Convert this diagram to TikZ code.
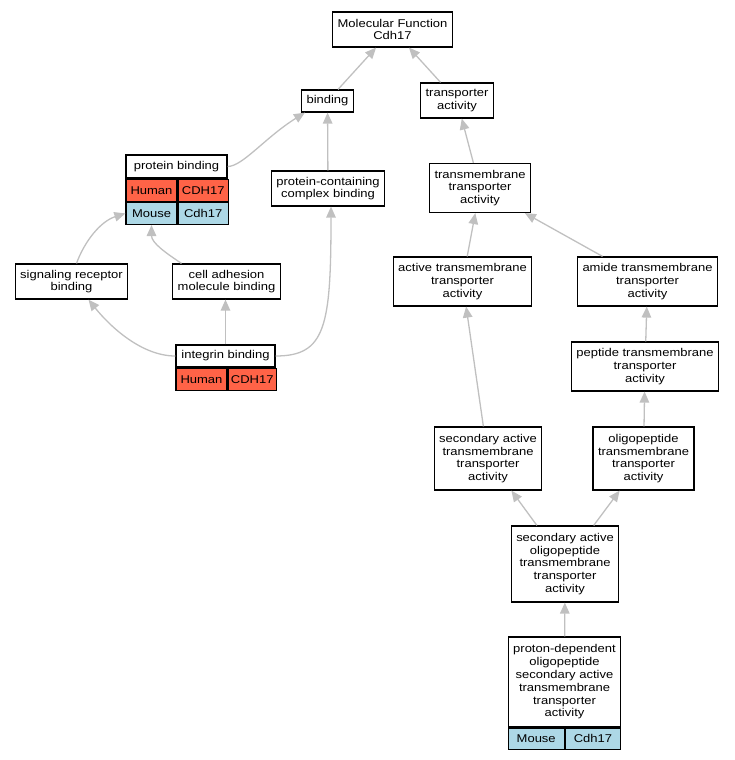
\documentclass[tikz,border=0pt]{standalone}
\usepackage{fontspec}
\newfontfamily\gofont[FakeStretch=1.15]{Liberation Sans}
\newcommand\termfont{\gofont\fontsize{11.3pt}{12.8pt}\selectfont}
\usetikzlibrary{arrows.meta}
\definecolor{human}{HTML}{FF6347}
\definecolor{mouse}{HTML}{ADD8E6}
\definecolor{edgegray}{HTML}{C0C0C0}

\begin{document}
\begin{tikzpicture}[x=1pt, y=-1pt, >={Triangle[length=11pt, width=9.5pt]},
  term/.style={draw, line width=1.2pt, fill=white, align=center, inner xsep=5pt, inner ysep=0pt, font=\termfont},
  one line/.style={minimum height=22pt},
  two lines/.style={minimum height=35pt},
  three lines/.style={minimum height=49pt},
  four lines/.style={minimum height=63pt},
  five lines/.style={minimum height=76pt},
  cell/.style={term, inner xsep=2pt, minimum height=22pt, anchor=north west},
  edge/.style={->, draw=edgegray, line width=1.3pt}]
  \useasboundingbox (0,0) rectangle (735,760);

  \node[term, two lines] (mf) at (392.5,29.5) {Molecular Function\\Cdh17};
  \node[term, one line] (binding) at (327.5,101) {binding};
  \node[term, two lines] (trans) at (457,100.5) {transporter\\activity};
  \node[term, two lines] (pcc) at (328,188.5) {protein-containing\\complex binding};
  \node[term, three lines] (tmta) at (480,188) {transmembrane\\transporter\\activity};
  \node[term, two lines] (srb) at (71.5,281.5) {signaling receptor\\binding};
  \node[term, two lines] (camb) at (226.5,281.5) {cell adhesion\\molecule binding};
  \node[term, three lines] (atta) at (462.5,281.5) {active transmembrane\\transporter\\activity};
  \node[term, three lines] (amide) at (647.5,281.5) {amide transmembrane\\transporter\\activity};
  \node[term, three lines] (peptide) at (645,366.5) {peptide transmembrane\\transporter\\activity};
  \node[term, four lines] (sata) at (488,458.5) {secondary active\\transmembrane\\transporter\\activity};
  \node[term, four lines] (oligo) at (643.5,458.5) {oligopeptide\\transmembrane\\transporter\\activity};
  \node[term, five lines] (saota) at (565,564) {secondary active\\oligopeptide\\transmembrane\\transporter\\activity};

  % tables: a term with one row per species
  \node[term, minimum width=101pt, minimum height=23pt] (pb) at (176.5,166.5) {protein binding};
  \node[cell, fill=human, minimum width=51pt] (pbHuman) at (pb.south west) {Human};
  \node[cell, fill=human, minimum width=50pt] (pbHumanGene) at (pbHuman.north east) {CDH17};
  \node[cell, fill=mouse, minimum width=51pt] (pbMouse) at (pbHuman.south west) {Mouse};
  \node[cell, fill=mouse, minimum width=50pt] (pbMouseGene) at (pbMouse.north east) {Cdh17};

  \node[term, minimum width=99pt, minimum height=22pt] (ib) at (225.5,356) {integrin binding};
  \node[cell, fill=human, minimum width=51pt] (ibHuman) at (ib.south west) {Human};
  \node[cell, fill=human, minimum width=48pt] (ibHumanGene) at (ibHuman.north east) {CDH17};

  \node[term, minimum width=111pt, minimum height=90pt] (pd) at (564.5,682) {proton-dependent\\oligopeptide\\secondary active\\transmembrane\\transporter\\activity};
  \node[cell, fill=mouse, minimum width=56pt, minimum height=21pt] (pdMouse) at (pd.south west) {Mouse};
  \node[cell, fill=mouse, minimum width=55pt, minimum height=21pt] (pdMouseGene) at (pdMouse.north east) {Cdh17};

  \draw[edge] (binding) -- (mf);
  \draw[edge] (trans) -- (mf);
  \draw[edge] (pb.east) .. controls +(15,0) and +(-40,25) .. ([xshift=4pt]binding.south west);
  \draw[edge] (pcc) -- (binding);
  \draw[edge] (tmta) -- (trans);
  \draw[edge] ([xshift=5pt]srb.north) .. controls +(8,-22) and +(-25,8) .. (pbMouse.west);
  \draw[edge] ([xshift=-45pt]camb.north) .. controls +(-15,-10) and +(0,18) .. (pbMouse.south);
  \draw[edge] (ib.west) .. controls +(-35,0) and +(20,25) .. ([xshift=17pt]srb.south);
  \draw[edge] (ib.north) -- (ib.north |- camb.south);
  \draw[edge] (ib.east) .. controls +(50,0) and +(0,120) .. ([xshift=3pt]pcc.south);
  \draw[edge] (atta) -- (tmta);
  \draw[edge] (amide) -- (tmta);
  \draw[edge] (peptide) -- (amide);
  \draw[edge] (sata) -- (atta);
  \draw[edge] (oligo) -- (peptide);
  \draw[edge] (saota) -- (sata);
  \draw[edge] (saota) -- (oligo);
  \draw[edge] (pd) -- (saota);
\end{tikzpicture}
\end{document}
